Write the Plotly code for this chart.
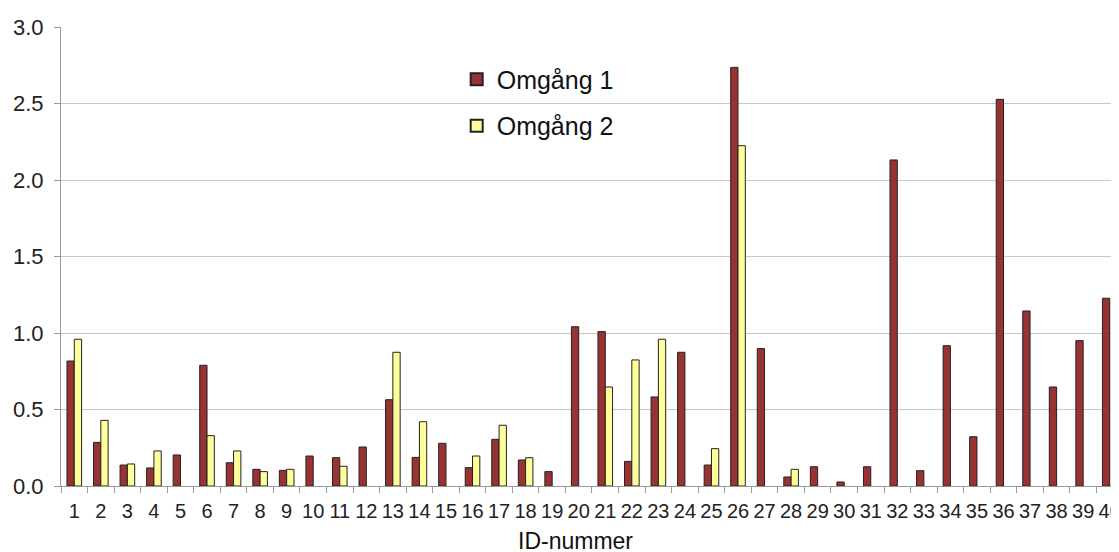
import plotly.graph_objects as go

ids = [str(i) for i in range(1, 41)]

omgang1 = [0.817, 0.285, 0.137, 0.118, 0.203, 0.789, 0.152, 0.109, 0.102, 0.196,
           0.185, 0.255, 0.564, 0.187, 0.279, 0.120, 0.305, 0.170, 0.094, 1.041,
           1.009, 0.161, 0.582, 0.874, 0.137, 2.736, 0.898, 0.059, 0.126, 0.026,
           0.126, 2.131, 0.100, 0.917, 0.322, 2.527, 1.144, 0.647, 0.950, 1.227]

omgang2 = [0.959, 0.429, 0.144, 0.229, None, 0.329, 0.229, 0.094, 0.109, None,
           0.129, None, 0.874, 0.420, None, 0.196, 0.397, 0.185, None, None,
           0.647, 0.824, 0.959, None, 0.244, 2.224, None, 0.109, None, None,
           None, None, None, None, None, None, None, None, None, None]

y_ticks = [0.0, 0.5, 1.0, 1.5, 2.0, 2.5, 3.0]

FONT = "Liberation Sans, Arial, sans-serif"

fig = go.Figure()
fig.add_trace(go.Bar(x=ids, y=omgang1, name="Omgång 1", legendgroup="a",
                     marker=dict(color="#993333", line=dict(color="#222222", width=1))))
fig.add_trace(go.Bar(x=ids, y=omgang2, name="Omgång 2", legendgroup="b",
                     marker=dict(color="#FFFF99", line=dict(color="#222222", width=1))))

fig.update_layout(
    width=1111, height=544,
    margin=dict(l=53, r=0, t=19, b=66),
    paper_bgcolor="white", plot_bgcolor="white",
    barmode="group", bargap=0.45, bargroupgap=0,
    font=dict(family=FONT, color="#222222"),
    showlegend=True,
    legend=dict(x=0.374, y=0.936, xanchor="left", yanchor="top",
                font=dict(size=25, family=FONT, color="#111111"),
                bgcolor="rgba(255,255,255,0)", tracegroupgap=11,
                itemsizing="constant", itemwidth=30),
    xaxis=dict(type="category", range=[-0.5, 39.35], tickson="boundaries",
               ticks="outside", ticklen=6, tickcolor="#999999", tickangle=0,
               automargin=False, ticklabelstandoff=7,
               showline=True, linecolor="#999999", linewidth=1,
               showgrid=False, tickfont=dict(size=20, family=FONT, color="#222222")),
    yaxis=dict(range=[0, 3], tickvals=y_ticks, tickformat=".1f",
               ticks="outside", ticklen=6, tickcolor="#999999",
               automargin=False, ticklabelstandoff=6,
               showline=True, linecolor="#999999", linewidth=1,
               showgrid=True, gridcolor="#c8c8c8", gridwidth=1,
               zeroline=False, tickfont=dict(size=22, family=FONT, color="#222222")),
    annotations=[dict(text="ID-nummer", xref="paper", yref="paper",
                      x=0.486, y=-0.12, xanchor="center", yanchor="middle",
                      showarrow=False, font=dict(size=23, family=FONT, color="#111111"))],
)

fig.write_html("out.html")
